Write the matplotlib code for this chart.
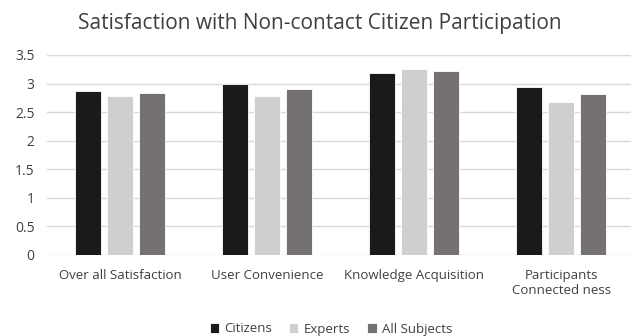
import matplotlib
matplotlib.use("Agg")
import matplotlib.pyplot as plt
import numpy as np

categories = ["Over all Satisfaction", "User Convenience", "Knowledge Acquisition",
              "Participants\nConnected ness"]
series_names = ["Citizens", "Experts", "All Subjects"]
citizens = [2.87, 2.99, 3.18, 2.94]
experts = [2.78, 2.78, 3.26, 2.68]
all_subjects = [2.83, 2.90, 3.22, 2.81]
yticks = [0, 0.5, 1, 1.5, 2, 2.5, 3, 3.5]
ytick_labels = ["0", "0.5", "1", "1.5", "2", "2.5", "3", "3.5"]

colors = ["#1a1a1a", "#d0cece", "#767171"]

plt.rcParams["font.family"] = ["Open Sans", "DejaVu Sans"]

fig = plt.figure(figsize=(6.31, 3.36), dpi=100)
ax = fig.add_axes([46.5 / 631, 1 - 255 / 336, (631 - 46.5) / 631, 200 / 336])

x = np.arange(len(categories))
slot = 0.218
width = 0.177
for i, (vals, name) in enumerate(zip([citizens, experts, all_subjects], series_names)):
    ax.bar(x + (i - 1) * slot, vals, width, color=colors[i], label=name,
           edgecolor="white", linewidth=0.6, zorder=3)

ax.set_ylim(0, 3.5)
ax.set_xlim(-0.5, 3.475)
ax.set_yticks(yticks)
ax.set_yticklabels(ytick_labels)
ax.set_xticks(x)
ax.set_xticklabels(categories, linespacing=1.25)
ax.yaxis.grid(True, color="#d9d9d9", linewidth=1, zorder=0)
for s in ax.spines.values():
    s.set_visible(False)
ax.tick_params(axis="x", length=0, labelsize=9.5, colors="#404040", pad=10)
ax.tick_params(axis="y", length=0, labelsize=10, colors="#404040", pad=8.5)

fig.text(0.5 + 4 / 631, 1 - 24 / 336, "Satisfaction with Non-contact Citizen Participation",
         ha="center", va="center", fontsize=15, color="#404040")

fig.legend(loc="center", bbox_to_anchor=(331 / 631, 1 - 329 / 336), ncol=3, frameon=False,
           fontsize=9.5, handlelength=0.7, handleheight=0.7, handletextpad=0.4,
           columnspacing=1.3, labelcolor="#404040")

fig.savefig("out.png", dpi=100)
